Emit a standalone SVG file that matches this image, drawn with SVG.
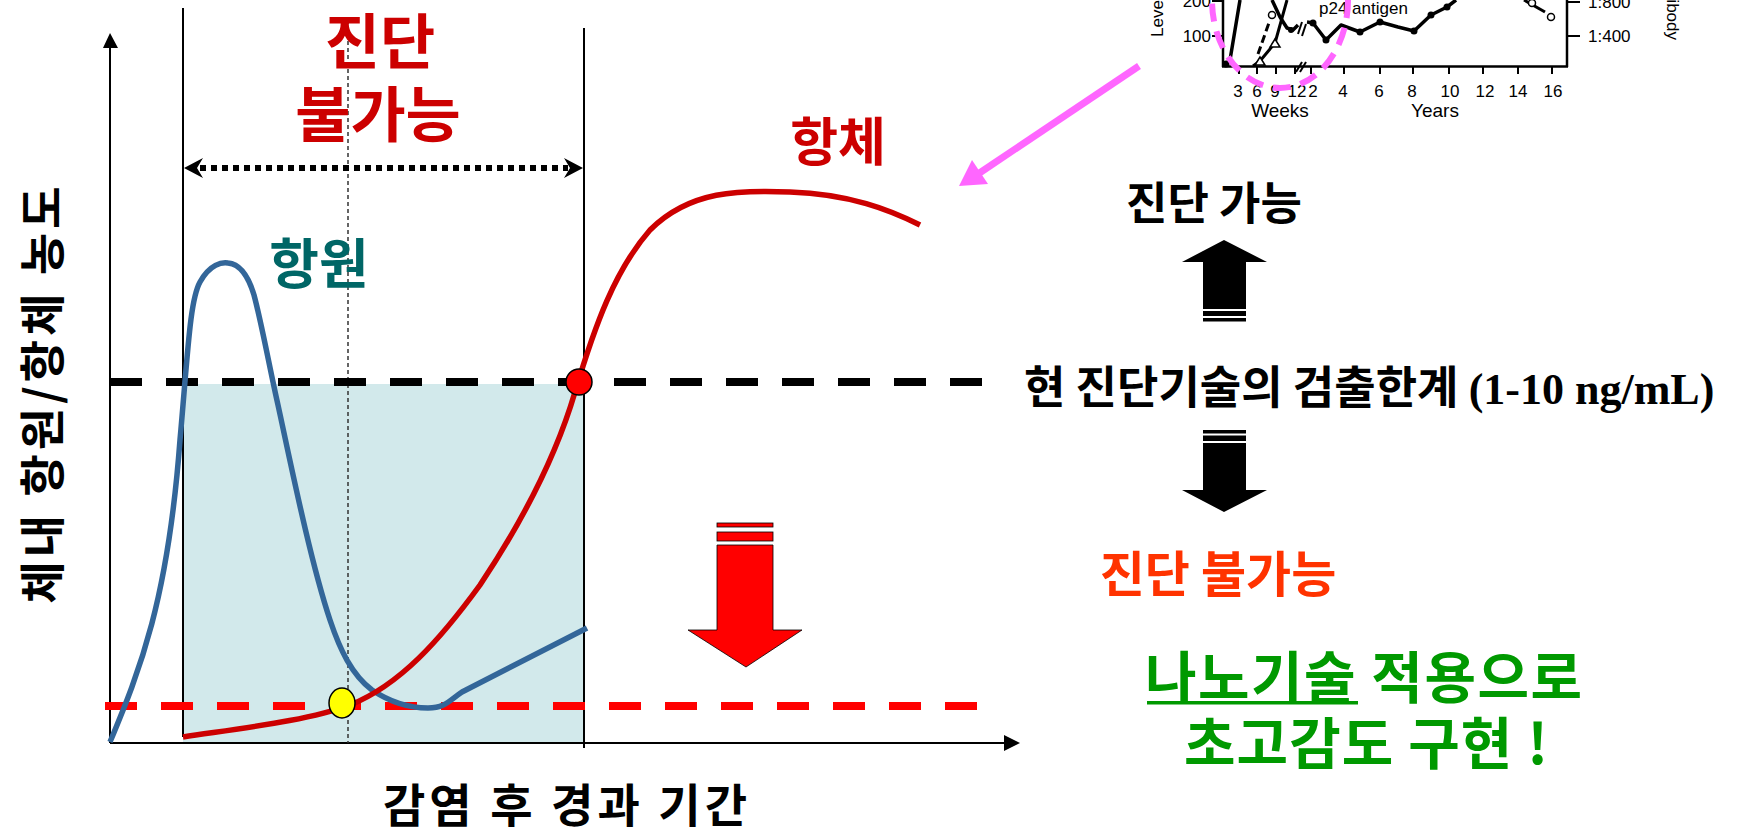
<svg xmlns="http://www.w3.org/2000/svg" width="1738" height="833" viewBox="0 0 1738 833">
<style>
.kr{font-family:"Noto Sans CJK KR","Noto Sans CJK SC",sans-serif;font-weight:bold}
.en{font-family:"Liberation Sans",Arial,sans-serif}
.ax{stroke:#000;stroke-width:2;fill:none}
.ins{stroke:#000;stroke-width:2.5;fill:none}
</style>
<rect width="1738" height="833" fill="#fff"/>

<g id="shade"><rect x="183" y="384" width="401" height="359" fill="#d2e9eb"/></g>

<g id="axes">
<line class="ax" x1="110" y1="46" x2="110" y2="743"/>
<polygon points="110,33 103,48 118,48" fill="#000"/>
<line class="ax" x1="110" y1="743" x2="1006" y2="743"/>
<polygon points="1020,743 1004,735 1004,751" fill="#000"/>
</g>

<g id="connectors">
<line class="ax" x1="183" y1="8" x2="183" y2="737"/>
<line class="ax" x1="584" y1="28" x2="584" y2="748"/>
<line x1="348" y1="20" x2="348" y2="743" stroke="#333" stroke-width="1.5" stroke-dasharray="4 3"/>
<line x1="200" y1="168" x2="568" y2="168" stroke="#000" stroke-width="6" stroke-dasharray="6 5"/>
<polygon points="184,168 203,158 197,168 203,178" fill="#000"/>
<polygon points="583,168 564,158 570,168 564,178" fill="#000"/>
<line x1="110" y1="382" x2="982" y2="382" stroke="#000" stroke-width="8" stroke-dasharray="32 24"/>
<line x1="105" y1="706" x2="977" y2="706" stroke="#ff0000" stroke-width="8" stroke-dasharray="32 24"/>
<line x1="1139" y1="66" x2="975" y2="176" stroke="#ff66ff" stroke-width="7"/>
<polygon points="959,186 972,160 988,184" fill="#ff66ff"/>
</g>

<g id="antigen-curve">
<path d="M110,742 C140,670 168,600 180,440 C188,350 190,300 200,282 C210,264 222,262 228,263 C240,264 248,275 254,295 C262,325 270,370 278,405 C290,460 310,560 330,620 C340,650 352,675 372,690 C390,702 410,708 428,708 C445,708 450,700 462,692 L587,628" fill="none" stroke="#336699" stroke-width="5.5" stroke-linejoin="round"/>
</g>

<g id="antibody-curve">
<path d="M183,737 C250,727 310,720 350,705 C400,685 440,640 480,585 C520,525 555,460 575,392 C595,325 615,270 650,230 C690,190 740,190 790,192 C850,194 890,210 920,225" fill="none" stroke="#cc0000" stroke-width="5.5"/>
</g>

<g id="points">
<circle cx="579" cy="382" r="13" fill="#ff0000" stroke="#000" stroke-width="1.5"/>
<ellipse cx="342" cy="703" rx="13" ry="15" fill="#ffff00" stroke="#000" stroke-width="1.5"/>
</g>

<g id="labels-left">
<text class="kr" x="380" y="64" font-size="60" fill="#cc0000" text-anchor="middle">진단</text>
<text class="kr" x="378" y="137" font-size="60" fill="#cc0000" text-anchor="middle">불가능</text>
<text class="kr" x="838" y="161" font-size="52" fill="#cc0000" text-anchor="middle">항체</text>
<text class="kr" x="319" y="284" font-size="54" fill="#006666" text-anchor="middle">항원</text>
<text class="kr" transform="translate(59,395) rotate(-90)" font-size="46" text-anchor="middle" textLength="417" lengthAdjust="spacing">체내 항원/항체 농도</text>
<text class="kr" x="565" y="822" font-size="46" text-anchor="middle" textLength="364" lengthAdjust="spacing">감염 후 경과 기간</text>
</g>

<g id="red-arrow">
<rect x="717" y="523" width="56" height="4" fill="#ff0000" stroke="#000" stroke-width="0.8"/>
<rect x="717" y="532" width="56" height="9" fill="#ff0000" stroke="#000" stroke-width="0.8"/>
<polygon points="717,545 773,545 773,630 802,630 746,667 688,630 717,630" fill="#ff0000" stroke="#000" stroke-width="0.8"/>
</g>

<g id="up-arrow">
<polygon points="1224,240 1267,262 1246,262 1246,309 1203,309 1203,262 1182,262" fill="#000"/>
<rect x="1203" y="311" width="43" height="5" fill="#000"/>
<rect x="1203" y="318" width="43" height="3.5" fill="#000"/>
</g>
<g id="down-arrow">
<rect x="1203" y="430" width="43" height="3.5" fill="#000"/>
<rect x="1203" y="435.5" width="43" height="5.5" fill="#000"/>
<polygon points="1203,443 1246,443 1246,490 1267,490 1224,512 1182,490 1203,490" fill="#000"/>
</g>

<g id="labels-right">
<text class="kr" x="1214" y="220" font-size="45" text-anchor="middle">진단 가능</text>
<text class="kr" x="1024" y="404" font-size="45">현 진단기술의 검출한계 <tspan font-family="'Liberation Serif','Times New Roman',serif" font-size="44">(1-10 ng/mL)</tspan></text>
<text class="kr" x="1218" y="592" font-size="49" fill="#ff3300" text-anchor="middle">진단 불가능</text>
<text class="kr" x="1145" y="698" font-size="56" fill="#009900" textLength="437" lengthAdjust="spacing">나노기술 적용으로</text>
<rect x="1147" y="701" width="211" height="3.5" fill="#009900"/>
<text class="kr" x="1184" y="764" font-size="56" fill="#009900" textLength="364" lengthAdjust="spacing">초고감도 구현 !</text>
</g>

<g id="inset">
<line class="ins" x1="1223" y1="0" x2="1223" y2="67"/>
<line class="ins" x1="1222" y1="66.5" x2="1568" y2="66.5"/>
<line class="ins" x1="1567" y1="0" x2="1567" y2="67"/>
<g stroke="#000" stroke-width="2">
<line x1="1212" y1="1" x2="1223" y2="1"/><line x1="1212" y1="36" x2="1223" y2="36"/>
<line x1="1567" y1="2" x2="1580" y2="2"/><line x1="1567" y1="36" x2="1580" y2="36"/>
<line x1="1239" y1="66" x2="1239" y2="74"/><line x1="1257" y1="66" x2="1257" y2="74"/><line x1="1276" y1="66" x2="1276" y2="74"/><line x1="1295" y1="66" x2="1295" y2="74"/><line x1="1311" y1="66" x2="1311" y2="74"/><line x1="1344" y1="66" x2="1344" y2="74"/><line x1="1380" y1="66" x2="1380" y2="74"/><line x1="1413" y1="66" x2="1413" y2="74"/><line x1="1449" y1="66" x2="1449" y2="74"/><line x1="1483" y1="66" x2="1483" y2="74"/><line x1="1518" y1="66" x2="1518" y2="74"/><line x1="1552" y1="66" x2="1552" y2="74"/>
<line x1="1296" y1="72" x2="1302" y2="62"/><line x1="1300" y1="72" x2="1306" y2="62"/>
<line x1="1298" y1="34" x2="1302" y2="22"/><line x1="1302" y1="36" x2="1306" y2="24"/>
</g>
<g class="en" font-size="17" fill="#000">
<text x="1211" y="7" text-anchor="end">200</text>
<text x="1211" y="42" text-anchor="end">100</text>
<text x="1588" y="8">1:800</text>
<text x="1588" y="42">1:400</text>
<text x="1319" y="14">p24 antigen</text>
<text transform="translate(1163,37) rotate(-90)">Level</text>
<text transform="translate(1667,40) rotate(90)" text-anchor="end">ibody</text>
<g text-anchor="middle">
<text x="1238" y="97">3</text><text x="1257" y="97">6</text><text x="1275" y="97">9</text><text x="1297" y="97">12</text><text x="1313" y="97">2</text><text x="1343" y="97">4</text><text x="1379" y="97">6</text><text x="1412" y="97">8</text><text x="1450" y="97">10</text><text x="1485" y="97">12</text><text x="1518" y="97">14</text><text x="1553" y="97">16</text>
</g>
<text x="1280" y="117" font-size="19" text-anchor="middle">Weeks</text>
<text x="1435" y="117" font-size="19" text-anchor="middle">Years</text>
</g>
<g fill="none" stroke="#000" stroke-width="3.5" stroke-linejoin="round">
<polyline points="1224,66 1230,60 1240,0"/>
<polyline points="1272,0 1280,17 1287,28 1293,30 1298,25"/>
<polyline points="1307,22 1313,23 1326,40 1341,25 1360,32 1380,22 1398,27 1414,31 1431,15 1447,7 1456,0"/>
<polyline points="1253,66 1260,61 1275,43 1287,0" stroke-width="3"/>
<line x1="1258" y1="54" x2="1270" y2="20" stroke-width="3" stroke-dasharray="8 4"/>
<line x1="1524" y1="0" x2="1545" y2="12" stroke-width="3"/>
</g>
<g fill="#000">
<circle cx="1313" cy="23" r="3.5"/><circle cx="1326" cy="40" r="3.5"/><circle cx="1360" cy="32" r="3.5"/><circle cx="1380" cy="22" r="3.5"/><circle cx="1414" cy="31" r="3.5"/><circle cx="1431" cy="15" r="3.5"/><circle cx="1447" cy="7" r="3.5"/><circle cx="1291" cy="30" r="3"/><circle cx="1226" cy="64" r="3.5"/>
</g>
<g fill="#fff" stroke="#000" stroke-width="1.5">
<circle cx="1272" cy="15" r="3.5"/><circle cx="1532" cy="3" r="3.5"/><circle cx="1551" cy="17" r="3.5"/>
<polygon points="1260,57 1255,65 1265,65"/><polygon points="1275,39 1270,47 1280,47"/>
</g>
<ellipse cx="1280" cy="0" rx="68" ry="88" fill="none" stroke="#ff66ff" stroke-width="6" stroke-dasharray="18 10"/>
</g>
</svg>
